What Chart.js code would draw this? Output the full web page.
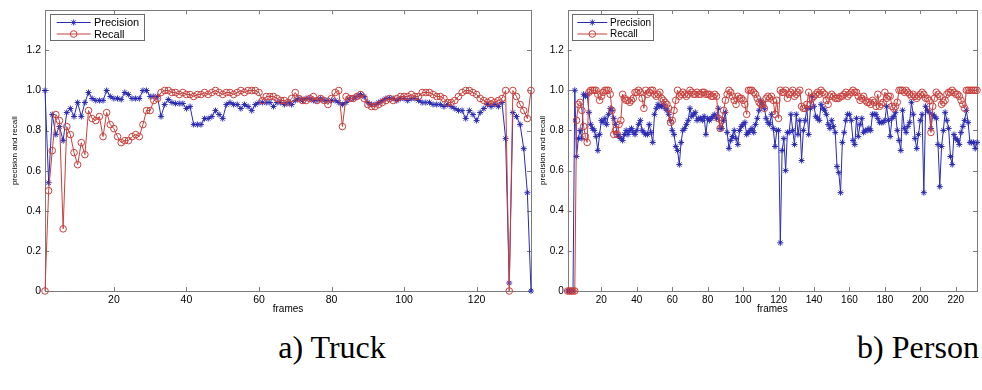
<!DOCTYPE html>
<html>
<head>
<meta charset="utf-8">
<script src="https://cdn.jsdelivr.net/npm/chart.js@4.4.1/dist/chart.umd.min.js"></script>
<style>
  body { margin: 0; background: #fff; width: 982px; height: 390px; position: relative; overflow: hidden; }
  canvas { position: absolute; top: 0; }
  #truckChart { left: 0; }
  #personChart { left: 536px; }
  .caption { position: absolute; top: 331px; width: 200px; text-align: center;
             font-family: "Liberation Serif", "Times New Roman", serif; font-size: 32px; line-height: 32px; color: #000; }
</style>
</head>
<body>
<canvas id="truckChart" width="536" height="320"></canvas>
<canvas id="personChart" width="446" height="320"></canvas>
<div class="caption" style="left:232px">a) Truck</div>
<div class="caption" style="left:818px">b) Person</div>
<script>
// values, one per frame (frame 1 .. N)
var truckPrecision = [
  1.0, 0.54, 0.88, 0.78, 0.82, 0.75, 0.89, 0.91, 0.87, 0.94,
  0.87, 0.94, 0.99, 0.96, 0.95, 0.95, 0.95, 1.0, 0.97, 0.96,
  0.96, 0.955, 0.99, 0.98, 0.96, 0.96, 0.96, 1.0, 1.0, 0.97,
  0.97, 0.97, 0.87, 0.93, 0.955, 0.94, 0.935, 0.935, 0.935, 0.91,
  0.92, 0.83, 0.83, 0.83, 0.86, 0.86, 0.87, 0.90, 0.88, 0.86,
  0.93, 0.94, 0.93, 0.93, 0.91, 0.93, 0.92, 0.90, 0.93, 0.94,
  0.94, 0.94, 0.94, 0.92, 0.94, 0.94, 0.93, 0.94, 0.93, 0.95,
  0.96, 0.95, 0.96, 0.96, 0.95, 0.95, 0.96, 0.95, 0.95, 0.95,
  0.95, 0.94, 0.93, 0.94, 0.96, 0.96, 0.97, 0.98, 0.97, 0.94,
  0.93, 0.93, 0.94, 0.95, 0.96, 0.96, 0.96, 0.95, 0.96, 0.96,
  0.95, 0.96, 0.96, 0.95, 0.94, 0.94, 0.94, 0.93, 0.93, 0.93,
  0.92, 0.93, 0.92, 0.91, 0.90, 0.90, 0.86, 0.90, 0.88, 0.85,
  0.89, 0.91, 0.93, 0.92, 0.93, 0.92, 0.94, 0.76, 0.04, 0.89,
  0.87, 0.83, 0.71, 0.49, 0.0
];
var truckRecall = [
  0.0, 0.50, 0.70, 0.88, 0.85, 0.31, 0.82, 0.78, 0.69, 0.63,
  0.74, 0.68, 0.90, 0.86, 0.85, 0.87, 0.77, 0.89, 0.83, 0.81,
  0.77, 0.74, 0.75, 0.75, 0.77, 0.78, 0.77, 0.83, 0.90, 0.90,
  0.95, 0.96, 0.99, 1.0, 1.0, 0.99, 0.99, 0.98, 0.99, 0.98,
  0.98, 0.97, 0.98, 0.98, 0.99, 0.98, 0.99, 1.0, 0.99, 0.98,
  0.99, 0.99, 0.98, 0.99, 1.0, 0.99, 1.0, 1.0, 1.0, 0.99,
  0.95, 0.97, 0.97, 0.97, 0.96, 0.95, 0.95, 0.94, 0.96, 0.99,
  0.96, 0.95, 0.95, 0.96, 0.97, 0.95, 0.96, 0.95, 0.93, 0.96,
  0.99, 1.0, 0.82, 0.97, 0.96, 0.96, 0.97, 0.98, 0.96, 0.93,
  0.92, 0.92, 0.93, 0.94, 0.95, 0.96, 0.95, 0.96, 0.97, 0.97,
  0.97, 0.98, 0.97, 0.97, 0.99, 0.99, 0.99, 0.98, 0.97, 0.97,
  0.96, 0.94, 0.94, 0.95, 0.97, 0.99, 1.0, 1.0, 0.99, 0.98,
  0.96, 0.95, 0.94, 0.95, 0.94, 0.95, 0.96, 1.0, 0.0, 1.0,
  0.97, 0.93, 0.90, 0.86, 1.0
];
var personPrecision = [
  0, 0, 0, 0, 1.0, 0.67, 0.76, 0.80, 0.76, 0.98,
  0.97, 0.98, 0.89, 0.83, 0.81, 0.80, 0.77, 0.70, 0.78, 0.85,
  0.84, 0.86, 0.83, 0.88, 0.91, 0.90, 0.86, 0.83, 0.78, 0.77,
  0.76, 0.75, 0.78, 0.80, 0.78, 0.80, 0.81, 0.79, 0.78, 0.80,
  0.83, 0.85, 0.80, 0.79, 0.78, 0.78, 0.83, 0.79, 0.74, 0.88,
  0.91, 0.93, 0.92, 0.92, 0.93, 0.91, 0.90, 0.88, 0.85, 0.80,
  0.78, 0.72, 0.70, 0.63, 0.74, 0.80, 0.81, 0.83, 0.85, 0.91,
  0.87, 0.88, 0.89, 0.85, 0.86, 0.86, 0.85, 0.87, 0.78, 0.86,
  0.85, 0.86, 0.87, 0.88, 0.86, 0.91, 0.81, 0.81, 0.85, 0.89,
  0.79, 0.71, 0.75, 0.77, 0.80, 0.76, 0.73, 0.80, 0.82, 0.83,
  0.84, 0.78, 0.79, 0.80, 0.81, 0.79, 0.83, 0.86, 0.90, 0.95,
  0.93, 0.91, 0.86, 0.84, 0.83, 0.88, 0.81, 0.72, 0.80, 0.80,
  0.24, 0.70, 0.76, 0.60, 0.79, 0.79, 0.88, 0.80, 0.73, 0.88,
  0.78, 0.85, 0.65, 0.80, 0.85, 0.91, 0.78, 0.91, 0.97, 0.92,
  0.87, 0.86, 0.85, 0.93, 0.91, 0.90, 0.88, 0.83, 0.81, 0.85,
  0.82, 0.79, 0.62, 0.59, 0.49, 0.74, 0.79, 0.85, 0.88, 0.88,
  0.85, 0.75, 0.73, 0.86, 0.77, 0.83, 0.86, 0.79, 0.80, 0.80,
  0.81, 0.80, 0.88, 0.88, 0.88, 0.86, 0.84, 0.84, 0.84, 0.85,
  0.92, 0.85, 0.77, 0.86, 0.87, 0.89, 0.80, 0.75, 0.70, 0.90,
  0.81, 0.79, 0.82, 0.84, 0.94, 0.88, 0.76, 0.71, 0.78, 0.85,
  0.88, 0.49, 0.92, 0.90, 0.89, 0.81, 0.88, 0.87, 0.86, 0.73,
  0.52, 0.72, 0.80, 0.89, 0.85, 0.81, 0.67, 0.63, 0.78, 0.76,
  0.75, 0.73, 0.79, 0.82, 0.85, 0.90, 0.84, 0.74, 0.74, 0.74,
  0.71, 0.74
];
var personRecall = [
  0, 0, 0, 0, 0, 0.85, 0.93, 0.94, 0.90, 0.82,
  0.77, 0.74, 0.99, 1.0, 1.0, 1.0, 1.0, 0.98, 0.95, 0.97,
  0.99, 1.0, 1.0, 1.0, 0.98, 0.90, 0.78, 0.80, 0.78, 0.83,
  0.85, 0.98, 0.96, 0.95, 0.95, 0.94, 0.95, 0.96, 0.99, 0.99,
  1.0, 0.99, 0.96, 0.91, 1.0, 0.98, 0.99, 1.0, 1.0, 0.98,
  0.97, 0.98, 0.99, 0.96, 0.95, 0.94, 0.93, 0.91, 0.84, 0.85,
  0.90, 0.95, 1.0, 0.97, 0.98, 0.99, 0.98, 0.97, 0.98, 1.0,
  0.99, 0.98, 0.98, 0.99, 0.98, 0.98, 0.99, 0.99, 0.98, 0.98,
  0.98, 0.97, 0.97, 0.98, 0.97, 0.86, 0.81, 0.85, 0.90, 0.95,
  0.98, 1.0, 0.99, 0.97, 0.95, 0.93, 0.97, 0.96, 0.96, 0.95,
  0.93, 0.88, 1.0, 1.0, 1.0, 0.99, 0.98, 0.96, 0.94, 0.93,
  0.93, 0.91, 0.96, 0.97, 0.96, 0.97, 0.95, 0.88, 0.95, 0.86,
  1.0, 0.99, 0.99, 1.0, 0.96, 0.98, 0.99, 1.0, 0.97, 0.98,
  0.99, 1.0, 0.92, 0.91, 0.91, 0.93, 0.99, 0.93, 0.96, 0.97,
  0.98, 0.99, 0.98, 1.0, 0.99, 0.98, 0.95, 0.93, 0.97, 0.98,
  0.97, 0.96, 0.96, 0.96, 0.97, 0.97, 0.98, 0.99, 0.97, 0.98,
  0.99, 1.0, 0.99, 0.99, 0.97, 0.95, 0.96, 0.97, 0.95, 0.94,
  0.94, 0.93, 0.95, 0.94, 0.92, 0.98, 0.92, 0.93, 0.94, 0.99,
  0.96, 0.97, 0.97, 0.92, 0.91, 0.92, 0.94, 1.0, 1.0, 1.0,
  0.99, 1.0, 0.99, 0.98, 0.97, 0.98, 0.97, 0.96, 0.97, 0.98,
  0.99, 0.98, 0.96, 0.96, 0.95, 0.79, 0.92, 0.96, 0.99, 0.98,
  0.97, 0.93, 0.94, 0.95, 0.98, 0.99, 0.99, 1.0, 0.99, 0.98,
  0.98, 0.97, 0.95, 0.93, 0.91, 1.0, 1.0, 1.0, 1.0, 1.0,
  1.0, 1.0
];
var truckTicks = [20, 40, 60, 80, 100, 120];
var personTicks = [20, 40, 60, 80, 100, 120, 140, 160, 180, 200, 220];
var yTicks = [0, 0.2, 0.4, 0.6, 0.8, 1, 1.2];

var blue = '#2a2ab4';
var red = '#c8403c';

Chart.defaults.font.family = '"Liberation Sans", Arial, sans-serif';
Chart.defaults.color = '#000';

// box round the plot with inward ticks on all four sides
var boxPlugin = {
  id: 'matlabBox',
  beforeDatasetsDraw: function(chart) {
    var ctx = chart.ctx, a = chart.chartArea;
    var xs = chart.scales.x, ys = chart.scales.y;
    ctx.save();
    ctx.strokeStyle = '#7c7c7c';
    ctx.lineWidth = 1;
    ctx.strokeRect(Math.round(a.left) + 0.5, Math.round(a.top) + 0.5,
                   Math.round(a.right - a.left), Math.round(a.bottom - a.top));
    ctx.beginPath();
    xs.ticks.forEach(function(t) {
      var px = Math.round(xs.getPixelForValue(t.value)) + 0.5;
      ctx.moveTo(px, a.bottom); ctx.lineTo(px, a.bottom - 4);
      ctx.moveTo(px, a.top); ctx.lineTo(px, a.top + 4);
    });
    ys.ticks.forEach(function(t) {
      var py = Math.round(ys.getPixelForValue(t.value)) + 0.5;
      ctx.moveTo(a.left, py); ctx.lineTo(a.left + 4, py);
      ctx.moveTo(a.right, py); ctx.lineTo(a.right - 4, py);
    });
    ctx.stroke();
    ctx.restore();
  }
};

// legend box inside the plot, line sample with marker in the middle
var legendPlugin = {
  id: 'boxLegend',
  afterDatasetsDraw: function(chart, args, opts) {
    var ctx = chart.ctx, a = chart.chartArea;
    var bx = Math.round(a.left + opts.dx), by = Math.round(a.top + opts.dy);
    ctx.save();
    ctx.fillStyle = '#fff';
    ctx.fillRect(bx, by, opts.w, opts.h);
    ctx.strokeStyle = '#6a6a6a';
    ctx.lineWidth = 1;
    ctx.strokeRect(bx + 0.5, by + 0.5, opts.w, opts.h);
    ctx.font = opts.fontSize + 'px "Liberation Sans", Arial, sans-serif';
    ctx.textBaseline = 'middle';
    chart.data.datasets.forEach(function(ds, i) {
      var ry = by + opts.rows[i];
      ctx.strokeStyle = ds.borderColor;
      ctx.lineWidth = 1;
      ctx.beginPath();
      ctx.moveTo(bx + opts.lineFrom, ry);
      ctx.lineTo(bx + opts.lineTo, ry);
      ctx.stroke();
      ctx.fillStyle = 'rgba(0,0,0,0)';
      Chart.helpers.drawPoint(ctx, { pointStyle: ds.pointStyle, radius: ds.pointRadius, borderWidth: 1, rotation: 0 },
                              bx + (opts.lineFrom + opts.lineTo) / 2, ry);
      ctx.fillStyle = '#000';
      ctx.fillText(ds.label, bx + opts.textX, ry + 0.5);
    });
    ctx.restore();
  }
};

function toPoints(values) {
  return values.map(function(v, i) { return { x: i + 1, y: v }; });
}

function makeChart(id, precision, recall, xTicks, cfg) {
  var ctx = document.getElementById(id);
  return new Chart(ctx, {
    type: 'line',
    data: {
      datasets: [
        {
          label: 'Precision',
          data: toPoints(precision),
          borderColor: blue,
          borderWidth: 1,
          pointStyle: 'star',
          pointRadius: 3,
          pointBorderColor: blue,
          pointBorderWidth: 1,
          pointBackgroundColor: 'rgba(0,0,0,0)',
          tension: 0,
          clip: false,
          order: 1
        },
        {
          label: 'Recall',
          data: toPoints(recall),
          borderColor: red,
          borderWidth: 1,
          pointStyle: 'circle',
          pointRadius: 3.3,
          pointBorderColor: red,
          pointBorderWidth: 1,
          pointBackgroundColor: 'rgba(0,0,0,0)',
          tension: 0,
          clip: false,
          order: 0
        }
      ]
    },
    options: {
      responsive: false,
      animation: false,
      devicePixelRatio: 1,
      layout: { padding: { top: 8, right: cfg.padRight, left: 0, bottom: 0 } },
      plugins: {
        legend: { display: false },
        tooltip: { enabled: false },
        boxLegend: cfg.legend
      },
      scales: {
        x: {
          type: 'linear',
          min: 1,
          max: cfg.xMax,
          grid: { display: false, drawTicks: false },
          border: { display: false },
          afterBuildTicks: function(s) { s.ticks = xTicks.map(function(v) { return { value: v }; }); },
          afterFit: function(s) { s.height = 29; },
          ticks: { font: { size: cfg.tickSize }, padding: 3, maxRotation: 0, autoSkip: false },
          title: { display: true, text: 'frames', font: { size: 10 }, padding: { top: 0, bottom: 5 } }
        },
        y: {
          min: 0,
          max: 1.4,
          grid: { display: false, drawTicks: false },
          border: { display: false },
          afterBuildTicks: function(s) { s.ticks = yTicks.map(function(v) { return { value: v }; }); },
          afterFit: function(s) { s.width = cfg.yWidth; },
          ticks: { font: { size: cfg.tickSize }, padding: 4 },
          title: { display: true, text: 'precision and recall', font: { size: 8 }, padding: { top: cfg.yTitlePad, bottom: 0 } }
        }
      }
    },
    plugins: [boxPlugin, legendPlugin]
  });
}

makeChart('truckChart', truckPrecision, truckRecall, truckTicks, {
  xMax: 135, padRight: 3, yWidth: 45, yTitlePad: 10, tickSize: 10.5,
  legend: { dx: 5, dy: 4, w: 94, h: 26, rows: [8.5, 20], lineFrom: 6.7, lineTo: 40.7, textX: 44, fontSize: 11 }
});

makeChart('personChart', personPrecision, personRecall, personTicks, {
  xMax: 232, padRight: 0, yWidth: 31.7, yTitlePad: 2.2, tickSize: 10,
  legend: { dx: 4.3, dy: 4, w: 81, h: 26, rows: [8.5, 20], lineFrom: 5.3, lineTo: 35.3, textX: 38, fontSize: 10 }
});
</script>
</body>
</html>
